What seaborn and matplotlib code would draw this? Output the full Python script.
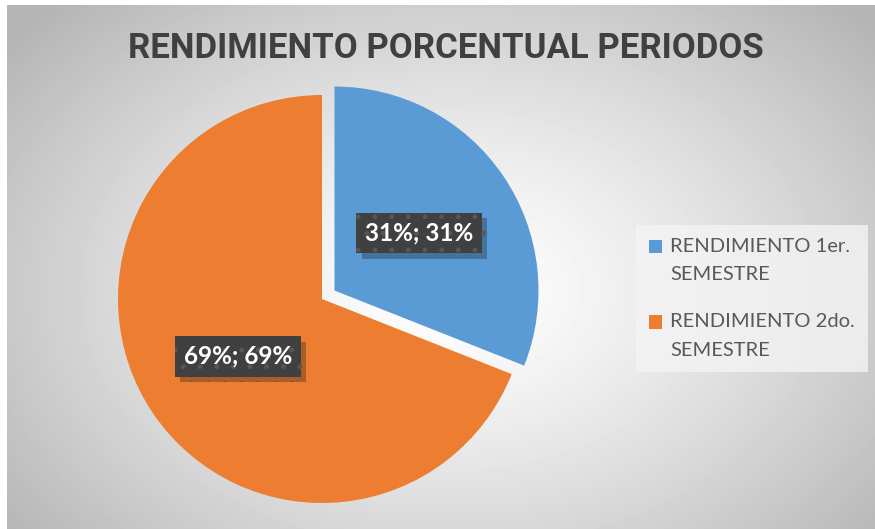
import matplotlib
matplotlib.use("Agg")
import matplotlib.pyplot as plt
import matplotlib.patheffects as pe
from matplotlib.patches import Rectangle
from matplotlib.legend_handler import HandlerPatch
import numpy as np
import seaborn as sns

# Datos del grafico
categorias = ["RENDIMIENTO 1er.\nSEMESTRE", "RENDIMIENTO 2do.\nSEMESTRE"]
valores = [31, 69]
colores = ["#5B9BD5", "#ED7D31"]
titulo = "RENDIMIENTO PORCENTUAL PERIODOS"

sns.set_theme(style="white")
plt.rcParams["font.family"] = ["Lato", "DejaVu Sans"]

W, H = 875, 529
fig = plt.figure(figsize=(W / 100, H / 100), dpi=100)

# fondo con degradado radial
yy, xx = np.mgrid[0:H, 0:W]
d = np.sqrt(((xx - 450) / 470) ** 2 + ((yy - 290) / 330) ** 2)
val = 1 - 0.23 * np.clip(d, 0, 1.2) ** 1.3
val[:5, :] = 1.0
val[:, :7] = 1.0
ax_bg = fig.add_axes([0, 0, 1, 1])
ax_bg.imshow(val, cmap="gray", vmin=0, vmax=1, aspect="auto", interpolation="bilinear")
ax_bg.axis("off")

# pastel: centro (322, 299) px, radio 204 px
r_px = 204
half = 250
ax = fig.add_axes([(322 - half) / W, 1 - (299 + half) / H, 2 * half / W, 2 * half / H])
ax.set_facecolor("none")
lim = half / r_px

wedges, textos, autotextos = ax.pie(
    valores,
    colors=colores,
    startangle=90,
    counterclock=False,
    explode=[0.074, 0],
    autopct=lambda p: f"{p:.0f}%; {p:.0f}%",
    pctdistance=0.5,
    radius=1,
    frame=True,
    wedgeprops=dict(linewidth=0),
    textprops=dict(color="white", fontsize=17.5, fontweight="bold"),
)
ax.set_xlim(-lim, lim)
ax.set_ylim(-lim, lim)
ax.axis("off")

for t in autotextos:
    t.set_bbox(dict(boxstyle="square,pad=0.36", fc="#404040", ec="#575757",
                    lw=0, hatch="."))
    t.get_bbox_patch().set_path_effects(
        [pe.SimplePatchShadow(offset=(4, -4), alpha=0.3), pe.Normal()])

fig.text(0.51, 1 - 49 / H, titulo, ha="center", va="center",
         fontsize=25, fontweight="bold", color="#404040",
         family=["Roboto", "DejaVu Sans"])


# cuadrito de la leyenda alineado con la primera linea
def cuadro_arriba(legend, orig_handle, xdescent, ydescent, width, height, fontsize):
    return Rectangle((-xdescent, -ydescent + 10), width, height)


leg = fig.legend(wedges, categorias, loc="upper left",
                 bbox_to_anchor=(636 / W, 1 - 225 / H), borderaxespad=0,
                 fontsize=14.5, frameon=True, fancybox=False,
                 handlelength=0.65, handleheight=0.65, handletextpad=0.4,
                 labelspacing=1.5, borderpad=0.65, labelcolor="#595959",
                 handler_map={w: HandlerPatch(patch_func=cuadro_arriba) for w in wedges})
leg.get_frame().set_facecolor("#f4f4f4")
leg.get_frame().set_alpha(0.8)
leg.get_frame().set_linewidth(0)
for t in leg.get_texts():
    t.set_linespacing(1.8)

fig.savefig("out.png", dpi=100)
